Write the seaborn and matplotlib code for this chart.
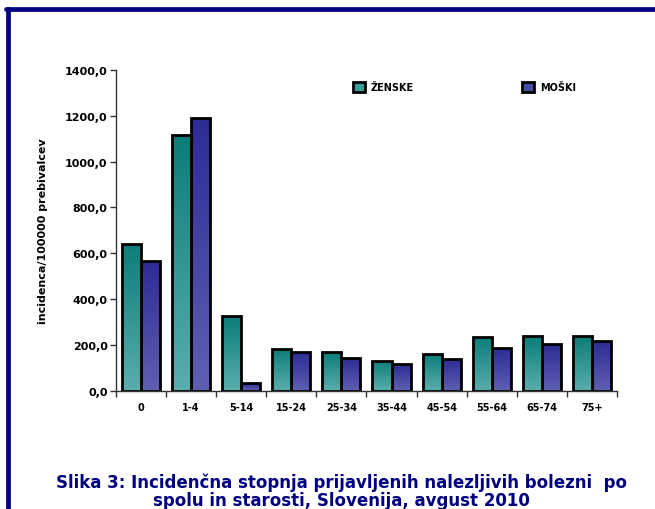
import numpy as np
import pandas as pd
import seaborn as sns
import matplotlib.pyplot as plt
from matplotlib.colors import LinearSegmentedColormap
from matplotlib.patches import Patch
from matplotlib.lines import Line2D
from matplotlib.ticker import FixedLocator, FuncFormatter

# Data
age_groups = ['0', '1-4', '5-14', '15-24', '25-34', '35-44', '45-54', '55-64', '65-74', '75+']
zenske = [642, 1117, 324, 184, 170, 131, 159, 233, 240, 240]
moski = [566, 1190, 33, 168, 143, 116, 137, 185, 204, 216]
series = ['ŽENSKE', 'MOŠKI']

df = pd.DataFrame({
    'starost': age_groups * 2,
    'spol': [series[0]] * len(age_groups) + [series[1]] * len(age_groups),
    'incidenca': zenske + moski,
})

# gradient colours (top, bottom) for each series
grad = {
    series[0]: ('#0b7d78', '#5aaead'),
    series[1]: ('#2c2c95', '#5f5fb2'),
}
mid = {series[0]: '#3a9c99', series[1]: '#4a4aa8'}
navy = '#000080'

sns.set_style('white')
plt.rcParams['font.family'] = ['DejaVu Sans']
plt.rcParams['text.color'] = 'black'
plt.rcParams['axes.labelcolor'] = 'black'
plt.rcParams['xtick.color'] = 'black'
plt.rcParams['ytick.color'] = 'black'

fig = plt.figure(figsize=(6.55, 5.10), dpi=100)
ax = fig.add_axes([0.177, 0.232, 0.765, 0.629])

sns.barplot(data=df, x='starost', y='incidenca', hue='spol', order=age_groups,
            hue_order=series, palette=mid, width=0.76, gap=0, ax=ax,
            edgecolor='black', linewidth=2, legend=False)

# replace flat fill with a vertical gradient clipped to each bar
gradient = np.linspace(0, 1, 256).reshape(-1, 1)
n = len(age_groups)
for i, bar in enumerate(ax.patches[:2 * n]):
    s = series[i // n]
    cmap = LinearSegmentedColormap.from_list(s, [grad[s][0], grad[s][1]])
    x0, w = bar.get_x(), bar.get_width()
    h = bar.get_height()
    bar.set_facecolor('none')
    im = ax.imshow(gradient, cmap=cmap, extent=[x0, x0 + w, 0, h],
                   aspect='auto', origin='upper', zorder=bar.get_zorder() - 0.1)
    im.set_clip_path(bar)

ax.set_xlim(-0.5, n - 0.5)
ax.set_ylim(0, 1400)
ax.set_yticks(np.arange(0, 1401, 200))
ax.yaxis.set_major_formatter(FuncFormatter(lambda v, p: f'{v:.1f}'.replace('.', ',')))
ax.xaxis.set_minor_locator(FixedLocator(np.arange(-0.5, n, 1.0)))
ax.tick_params(axis='x', which='major', length=0, pad=8, labelsize=7)
ax.tick_params(axis='x', which='minor', length=4, width=1, color='#333333', direction='out', bottom=True)
ax.tick_params(axis='y', length=4, width=1, color='#333333', direction='out', left=True, labelsize=8, pad=2)
for lab in ax.get_xticklabels() + ax.get_yticklabels():
    lab.set_fontweight('bold')

for side in ['top', 'right']:
    ax.spines[side].set_visible(False)
for side in ['left', 'bottom']:
    ax.spines[side].set_color('#333333')
    ax.spines[side].set_linewidth(1)

ax.set_xlabel('')
ax.set_ylabel('incidenca/100000 prebivalcev', fontsize=8, fontweight='bold', labelpad=12)

handles = [Patch(facecolor=mid[s], edgecolor='black', linewidth=2) for s in series]
leg = ax.legend(handles, series, ncol=2, loc='upper left', bbox_to_anchor=(0.455, 0.99),
                frameon=False, handlelength=1.3, handleheight=1.3, handletextpad=0.55,
                columnspacing=11.1, prop={'weight': 'bold', 'size': 7})

fig.text(0.522, 1 - 474 / 510, 'Slika 3: Incidenčna stopnja prijavljenih nalezljivih bolezni  po\nspolu in starosti, Slovenija, avgust 2010',
         ha='center', va='top', fontsize=12, fontweight='bold', color=navy, linespacing=1.0)

# frame lines on the left and top of the picture
fig.add_artist(Line2D([0.012, 0.012], [0, 0.981], color=navy, linewidth=3.4, transform=fig.transFigure))
fig.add_artist(Line2D([0.0097, 1.0], [0.981, 0.981], color=navy, linewidth=3.4, transform=fig.transFigure))

fig.savefig('out.png', dpi=100)
